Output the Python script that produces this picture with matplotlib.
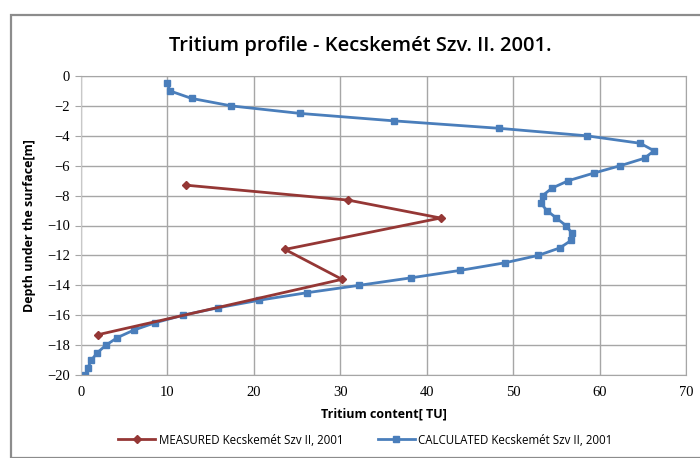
import numpy as np
import matplotlib.pyplot as plt
from matplotlib.patches import Rectangle

# measured tritium profile (TU vs depth in m)
meas_tu = [12.1, 30.9, 41.6, 23.6, 30.2, 2.0]
meas_depth = [-7.3, -8.3, -9.5, -11.6, -13.6, -17.3]

# calculated profile, every 0.5 m
calc_tu = [10.0, 10.3, 12.8, 17.4, 25.3, 36.2, 48.4, 58.5, 64.7, 66.3,
           65.2, 62.4, 59.3, 56.4, 54.5, 53.4, 53.2, 53.9, 55.0, 56.1,
           56.8, 56.7, 55.4, 52.9, 49.0, 43.9, 38.2, 32.2, 26.1, 20.6,
           15.9, 11.8, 8.6, 6.1, 4.2, 2.9, 1.9, 1.2, 0.8, 0.5]
calc_depth = [-0.5, -1.0, -1.5, -2.0, -2.5, -3.0, -3.5, -4.0, -4.5, -5.0,
              -5.5, -6.0, -6.5, -7.0, -7.5, -8.0, -8.5, -9.0, -9.5, -10.0,
              -10.5, -11.0, -11.5, -12.0, -12.5, -13.0, -13.5, -14.0, -14.5, -15.0,
              -15.5, -16.0, -16.5, -17.0, -17.5, -18.0, -18.5, -19.0, -19.5, -20.0]

x_ticks = [0, 10, 20, 30, 40, 50, 60, 70]
y_ticks = [0, -2, -4, -6, -8, -10, -12, -14, -16, -18, -20]

W, H = 700, 458
fig = plt.figure(figsize=(7, 4.58), dpi=100)

# chart area border
fig.patches.append(Rectangle((11 / W, 0), 1.0, 1 - 15 / H, transform=fig.transFigure,
                             fill=False, edgecolor='#8c8c8c', linewidth=1.6))

ax = fig.add_axes([81 / W, 1 - 375 / H, (686 - 81) / W, (375 - 76) / H])

ax.plot(meas_tu, meas_depth, color='#953735', lw=2.0, marker='D', ms=4.5,
        label='MEASURED Kecskemét Szv II, 2001', zorder=3)
ax.plot(calc_tu, calc_depth, color='#4a7ebb', lw=2.0, marker='s', ms=5,
        label='CALCULATED Kecskemét Szv II, 2001', zorder=2)

ax.set_xlim(0, 70)
ax.set_ylim(-20, 0)
ax.set_xticks(x_ticks)
ax.set_yticks(y_ticks)
ax.grid(True, color='#a6a6a6', lw=1.0)
ax.set_axisbelow(True)
for s in ['top', 'right', 'bottom']:
    ax.spines[s].set_color('#a6a6a6')
ax.spines['left'].set_color('#c8c8c8')
ax.tick_params(axis='x', length=0, pad=8, labelsize=10.5,
               labelfontfamily='Liberation Serif')
ax.tick_params(axis='y', length=4, color='#a6a6a6', pad=4, labelsize=10.5,
               labelfontfamily='Liberation Serif')

ax.set_xlabel('Tritium content[ TU]', family='Open Sans', fontweight='bold',
              fontsize=9, labelpad=6)
ax.set_ylabel('Depth under the surface[m]', family='Open Sans', fontweight='bold',
              fontsize=9, labelpad=8)

fig.text(0.515, 1 - 46 / H, 'Tritium profile - Kecskemét Szv. II. 2001.',
         family='Open Sans', fontweight='semibold', fontsize=14.5,
         ha='center', va='center')

fig.legend(loc='center', bbox_to_anchor=(0.522, 1 - 440 / H), ncol=2, frameon=False,
           prop={'family': 'Open Sans', 'size': 8.3}, handlelength=3.2,
           columnspacing=3.0, handletextpad=0.3)

fig.savefig('out.png', dpi=100)
